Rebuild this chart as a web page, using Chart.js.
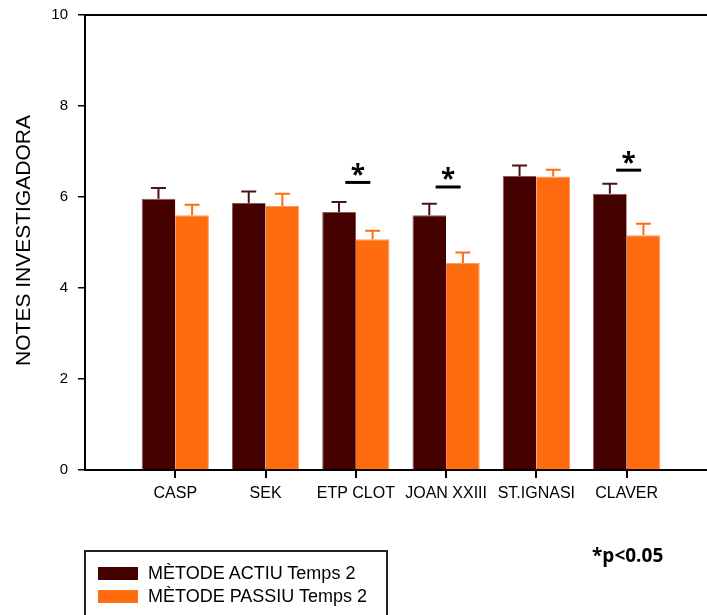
<!DOCTYPE html>
<html>
<head>
<meta charset="utf-8">
<script src="https://cdn.jsdelivr.net/npm/chart.js@4"></script>
<style>
  html, body { margin: 0; padding: 0; background: #fff; }
  #wrap { position: relative; width: 707px; height: 615px; overflow: hidden; }
  #chart { position: absolute; left: 0; top: -4px; }
  #legend {
    position: absolute; left: 84px; top: 550px; width: 304px; height: 80px;
    border: 2px solid #222; box-sizing: border-box;
    font-family: "Liberation Sans", Arial, sans-serif; font-size: 18px; color: #000;
  }
  .item { position: absolute; left: 12px; height: 14px; }
  .item span.sw { position: absolute; left: 0; top: 0; width: 40px; height: 13px; }
  .item span.tx { position: absolute; left: 50px; top: -4px; white-space: nowrap; line-height: 20px; }
  #pnote {
    position: absolute; left: 592px; top: 542px;
    font-family: "Open Sans", sans-serif; font-weight: bold; font-size: 19px; color: #000;
  }
</style>
</head>
<body>
<div id="wrap">
  <canvas id="chart" width="707" height="619"></canvas>
  <div id="legend">
    <div class="item" style="top:15px"><span class="sw" style="background:#450000"></span><span class="tx">MÈTODE ACTIU Temps 2</span></div>
    <div class="item" style="top:38px"><span class="sw" style="background:#ff6c10"></span><span class="tx">MÈTODE PASSIU Temps 2</span></div>
  </div>
  <div id="pnote">*p&lt;0.05</div>
</div>
<script>
const categories = ['CASP', 'SEK', 'ETP CLOT', 'JOAN XXIII', 'ST.IGNASI', 'CLAVER'];
const actiu = [5.96, 5.87, 5.67, 5.60, 6.46, 6.07];
const actiuErr = [0.24, 0.25, 0.22, 0.25, 0.23, 0.22];
const passiu = [5.60, 5.80, 5.07, 4.55, 6.45, 5.16];
const passiuErr = [0.23, 0.27, 0.19, 0.23, 0.15, 0.25];
const sigIndex = [2, 3, 5];          // categories with significant difference
const sigLevel = [6.32, 6.22, 6.59]; // height of the bar under the star
const yTicks = [0, 2, 4, 6, 8, 10];
const yTitle = 'NOTES INVESTIGADORA';

const DARK = '#450000';
const ORANGE = '#ff6c10';

const errors = [actiuErr, passiuErr];
const errColors = ['#4a1414', ORANGE];

// one-sided error bars, like the original
const errorBars = {
    id: 'errorBars',
    afterDatasetsDraw(chart) {
        const ctx = chart.ctx;
        const y = chart.scales.y;
        chart.data.datasets.forEach((ds, d) => {
            const meta = chart.getDatasetMeta(d);
            meta.data.forEach((bar, i) => {
                const top = y.getPixelForValue(ds.data[i].y + errors[d][i]);
                ctx.save();
                ctx.strokeStyle = errColors[d];
                ctx.lineWidth = 2;
                ctx.beginPath();
                ctx.moveTo(bar.x, bar.y);
                ctx.lineTo(bar.x, top);
                ctx.moveTo(bar.x - 7.5, top);
                ctx.lineTo(bar.x + 7.5, top);
                ctx.stroke();
                ctx.restore();
            });
        });
    }
};

// frame line on top, x tick marks, y title, significance stars
const extras = {
    id: 'extras',
    afterDraw(chart) {
        const ctx = chart.ctx;
        const { x, y } = chart.scales;
        const area = chart.chartArea;
        ctx.save();
        ctx.strokeStyle = '#000';
        ctx.lineWidth = 2;
        ctx.beginPath();
        ctx.moveTo(area.left, area.top);
        ctx.lineTo(area.right, area.top);
        ctx.stroke();

        ctx.fillStyle = '#000';
        categories.forEach((c, i) => {
            const px = Math.round(x.getPixelForValue(i + 1));
            ctx.fillRect(px - 1, area.bottom, 2, 8);
        });

        ctx.save();
        ctx.fillStyle = '#000';
        ctx.font = '21px "Liberation Sans", Arial, sans-serif';
        ctx.textAlign = 'center';
        ctx.textBaseline = 'middle';
        ctx.translate(24, (area.top + area.bottom) / 2 - 2);
        ctx.rotate(-Math.PI / 2);
        ctx.fillText(yTitle, 0, 0);
        ctx.restore();

        sigIndex.forEach((idx, k) => {
            const cx = x.getPixelForValue(idx + 1) + 2;
            const py = y.getPixelForValue(sigLevel[k]);
            ctx.lineWidth = 3;
            ctx.beginPath();
            ctx.moveTo(cx - 12.5, py);
            ctx.lineTo(cx + 12.5, py);
            ctx.stroke();
            ctx.fillStyle = '#000';
            ctx.font = 'bold 26px "Open Sans", sans-serif';
            ctx.textAlign = 'center';
            ctx.textBaseline = 'middle';
            ctx.fillText('*', cx, py - 6);
        });
        ctx.restore();
    }
};

const ctx = document.getElementById('chart').getContext('2d');
new Chart(ctx, {
    type: 'bar',
    data: {
        datasets: [
            {
                label: 'MÈTODE ACTIU Temps 2',
                data: actiu.map((v, i) => ({ x: i + 1, y: v })),
                backgroundColor: DARK,
                borderColor: '#8a5a5a',
                borderWidth: { left: 1, top: 1, right: 0, bottom: 0 }
            },
            {
                label: 'MÈTODE PASSIU Temps 2',
                data: passiu.map((v, i) => ({ x: i + 1, y: v })),
                backgroundColor: ORANGE,
                borderColor: '#ff9a5a',
                borderWidth: { left: 0, top: 1, right: 1, bottom: 0 }
            }
        ]
    },
    options: {
        responsive: false,
        animation: false,
        categoryPercentage: 0.745,
        barPercentage: 1.0,
        layout: { padding: { top: 10, right: 0, bottom: 105, left: 34 } },
        plugins: {
            legend: { display: false },
            tooltip: { enabled: false }
        },
        scales: {
            x: {
                type: 'linear',
                min: 0,
                max: 6.89,
                offset: false,
                afterBuildTicks: (scale) => {
                    scale.ticks = categories.map((c, i) => ({ value: i + 1 }));
                },
                afterFit: (scale) => { scale.height = 40; },
                grid: { display: false },
                border: { display: true, color: '#000', width: 2 },
                ticks: {
                    autoSkip: false,
                    maxRotation: 0,
                    padding: 6,
                    color: '#000',
                    font: { family: '"Liberation Sans", Arial, sans-serif', size: 16 },
                    callback: (v) => categories[v - 1]
                }
            },
            y: {
                min: 0,
                max: 10,
                afterBuildTicks: (scale) => {
                    scale.ticks = yTicks.map(v => ({ value: v }));
                },
                afterFit: (scale) => { scale.width = 51; },
                grid: { display: true, drawOnChartArea: false, drawTicks: true, tickLength: 7, color: '#000', lineWidth: 1.5 },
                border: { display: true, color: '#000', width: 2 },
                ticks: {
                    padding: 10,
                    color: '#000',
                    font: { family: '"Liberation Sans", Arial, sans-serif', size: 15 }
                }
            }
        }
    },
    plugins: [errorBars, extras]
});
</script>
</body>
</html>
